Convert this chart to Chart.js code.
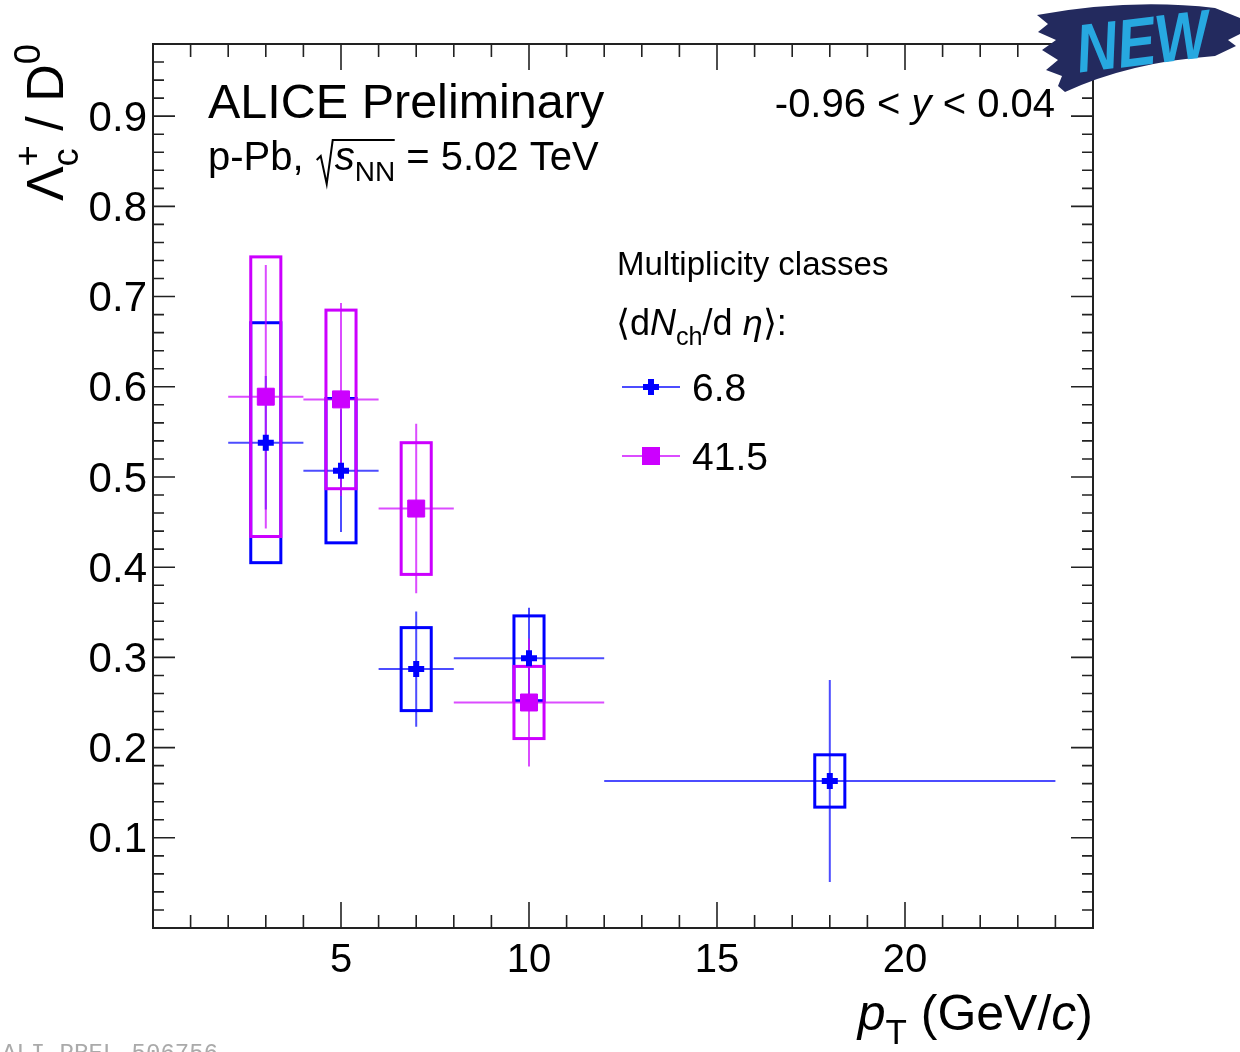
<!DOCTYPE html>
<html>
<head>
<meta charset="utf-8">
<script src="https://cdn.jsdelivr.net/npm/chart.js@4.4.0/dist/chart.umd.min.js"></script>
<style>
  html, body { margin: 0; padding: 0; background: #fff; }
  #wrap { width: 1240px; height: 1052px; }
</style>
</head>
<body>
<div id="wrap"><canvas id="chart-1" width="1240" height="1052"></canvas></div>
<script>
// pT bins (GeV/c)
const ptLow = [2, 4, 6, 8, 12];
const ptHigh = [4, 6, 8, 12, 24];
const ptCenter = [3, 5, 7, 10, 18];

// <dNch/deta> = 6.8
const lowMultRatio = [0.538, 0.507, 0.287, 0.299, 0.163];
const lowMultStat = [0.074, 0.068, 0.064, 0.056, 0.112];
const lowMultSyst = [0.133, 0.080, 0.046, 0.047, 0.029];

// <dNch/deta> = 41.5, no point in the last bin
const highMultRatio = [0.589, 0.586, 0.465, 0.250];
const highMultStat = [0.146, 0.107, 0.094, 0.071];
const highMultSyst = [0.155, 0.099, 0.073, 0.040];

const multLabels = ['6.8', '41.5'];
const xTickLabels = [5, 10, 15, 20];
const yTickLabels = [0.1, 0.2, 0.3, 0.4, 0.5, 0.6, 0.7, 0.8, 0.9];

const FONT = "'Liberation Sans', Arial, sans-serif";
const BLUE = '#0000ff';
const MAGENTA = '#cc00ff';

function toPoints(vals) {
  return vals.map((v, i) => ({ x: ptCenter[i], y: v }));
}

// draw a run of text pieces: {t, it, sub, sup, over}
function richText(ctx, x, y, parts, size, align) {
  const fontOf = (p, s) => (p.it ? 'italic ' : '') + s + 'px ' + FONT;
  let total = 0;
  const widths = parts.map(p => {
    const s = (p.sub || p.sup) ? size * 0.7 : size;
    ctx.font = fontOf(p, s);
    let w = ctx.measureText(p.t).width;
    if (p.over) {
      ctx.font = fontOf({}, size * 0.7);
      w = Math.max(w, ctx.measureText(p.over).width);
    }
    total += w;
    return w;
  });
  let cx = align === 'right' ? x - total : x;
  ctx.textAlign = 'left';
  ctx.textBaseline = 'alphabetic';
  parts.forEach((p, i) => {
    const s = (p.sub || p.sup) ? size * 0.7 : size;
    ctx.font = fontOf(p, s);
    let dy = 0;
    if (p.sub) dy = size * 0.28;
    if (p.sup) dy = -size * 0.45;
    ctx.fillText(p.t, cx, y + dy);
    if (p.over) {
      ctx.font = fontOf({}, size * 0.7);
      ctx.fillText(p.over, cx, y - size * 0.45);
    }
    cx += widths[i];
  });
}

const errorPlugin = {
  id: 'errorBoxes',
  beforeDatasetsDraw(chart) {
    const { ctx, chartArea, scales: { x, y } } = chart;
    ctx.save();
    ctx.beginPath();
    ctx.rect(chartArea.left, chartArea.top, chartArea.right - chartArea.left, chartArea.bottom - chartArea.top);
    ctx.clip();
    const series = [
      { vals: lowMultRatio, stat: lowMultStat, syst: lowMultSyst, color: BLUE },
      { vals: highMultRatio, stat: highMultStat, syst: highMultSyst, color: MAGENTA }
    ];
    series.forEach(s => {
      s.vals.forEach((v, i) => {
        const px = x.getPixelForValue(ptCenter[i]);
        const py = y.getPixelForValue(v);
        // stat error bars
        ctx.globalAlpha = 0.7;
        ctx.strokeStyle = s.color;
        ctx.lineWidth = 2;
        ctx.beginPath();
        ctx.moveTo(x.getPixelForValue(ptLow[i]), py);
        ctx.lineTo(x.getPixelForValue(ptHigh[i]), py);
        ctx.moveTo(px, y.getPixelForValue(v - s.stat[i]));
        ctx.lineTo(px, y.getPixelForValue(v + s.stat[i]));
        ctx.stroke();
        // syst box
        ctx.globalAlpha = 1;
        ctx.lineWidth = 3;
        const x0 = x.getPixelForValue(ptCenter[i] - 0.4);
        const x1 = x.getPixelForValue(ptCenter[i] + 0.4);
        const y0 = y.getPixelForValue(v + s.syst[i]);
        const y1 = y.getPixelForValue(v - s.syst[i]);
        ctx.strokeRect(x0, y0, x1 - x0, y1 - y0);
      });
    });
    ctx.restore();
  },
  afterDraw(chart) {
    const { ctx, chartArea: a, scales: { x, y } } = chart;
    ctx.save();
    // frame
    ctx.strokeStyle = '#222';
    ctx.lineWidth = 2;
    ctx.strokeRect(a.left, a.top, a.right - a.left, a.bottom - a.top);
    // ROOT style ticks on all sides
    ctx.lineWidth = 1.6;
    ctx.beginPath();
    for (let v = x.min; v <= x.max; v += 1) {
      const px = x.getPixelForValue(v);
      const len = v % 5 === 0 ? 26 : 13;
      ctx.moveTo(px, a.bottom); ctx.lineTo(px, a.bottom - len);
      ctx.moveTo(px, a.top); ctx.lineTo(px, a.top + len);
    }
    for (let k = 0; k * 0.02 <= y.max + 1e-9; k++) {
      const py = y.getPixelForValue(k * 0.02);
      const len = k % 5 === 0 ? 22 : 11;
      ctx.moveTo(a.left, py); ctx.lineTo(a.left + len, py);
      ctx.moveTo(a.right, py); ctx.lineTo(a.right - len, py);
    }
    ctx.stroke();

    ctx.fillStyle = '#000';
    // axis titles
    richText(ctx, a.right, 1030, [
      { t: 'p', it: true }, { t: 'T', sub: true }, { t: ' (GeV/' }, { t: 'c', it: true }, { t: ')' }
    ], 50, 'right');
    ctx.save();
    ctx.translate(63, a.top);
    ctx.rotate(-Math.PI / 2);
    richText(ctx, 0, 0, [
      { t: 'Λ' }, { t: 'c', sub: true, over: '+' }, { t: ' / D' }, { t: '0', sup: true }
    ], 52, 'right');
    ctx.restore();

    // labels
    richText(ctx, 208, 118, [{ t: 'ALICE Preliminary' }], 48.5, 'left');
    ctx.font = '40px ' + FONT;
    richText(ctx, 208, 170, [{ t: 'p-Pb, ' }], 40, 'left');
    const sx = 208 + ctx.measureText('p-Pb, ').width;
    // square root sign
    ctx.strokeStyle = '#000';
    ctx.lineWidth = 2;
    ctx.beginPath();
    ctx.moveTo(sx + 2, 160);
    ctx.lineTo(sx + 6, 156);
    ctx.lineTo(sx + 12, 184);
    ctx.lineTo(sx + 18, 140);
    ctx.lineTo(sx + 80, 140);
    ctx.stroke();
    richText(ctx, sx + 20, 170, [
      { t: 's', it: true }, { t: 'NN', sub: true }, { t: ' = 5.02 TeV' }
    ], 40, 'left');
    richText(ctx, 1055, 117, [
      { t: '-0.96 < ' }, { t: 'y', it: true }, { t: ' < 0.04' }
    ], 40, 'right');

    // legend
    richText(ctx, 617, 275, [{ t: 'Multiplicity classes' }], 33, 'left');
    richText(ctx, 616, 335, [
      { t: '⟨d' }, { t: 'N', it: true }, { t: 'ch', sub: true }, { t: '/d ' }, { t: 'η', it: true }, { t: '⟩:' }
    ], 36, 'left');
    const legY = [387, 456];
    const legColors = [BLUE, MAGENTA];
    multLabels.forEach((lab, i) => {
      ctx.strokeStyle = legColors[i];
      ctx.globalAlpha = 0.7;
      ctx.lineWidth = 2;
      ctx.beginPath();
      ctx.moveTo(622, legY[i]); ctx.lineTo(680, legY[i]);
      ctx.stroke();
      ctx.globalAlpha = 1;
      if (i === 0) {
        ctx.lineWidth = 6;
        ctx.beginPath();
        ctx.moveTo(643, legY[i]); ctx.lineTo(659, legY[i]);
        ctx.moveTo(651, legY[i] - 8); ctx.lineTo(651, legY[i] + 8);
        ctx.stroke();
      } else {
        ctx.fillStyle = legColors[i];
        ctx.fillRect(642, legY[i] - 9, 18, 18);
      }
      ctx.fillStyle = '#000';
      richText(ctx, 692, legY[i] + 14, [{ t: lab }], 39, 'left');
    });

    // preliminary figure id, cut by the page edge
    ctx.fillStyle = '#aaa';
    ctx.font = "24px 'Liberation Mono', monospace";
    ctx.textBaseline = 'top';
    ctx.fillText('ALI-PREL-506756', 2, 1042);

    // NEW badge, brush stroke
    ctx.fillStyle = '#232a5e';
    ctx.beginPath();
    ctx.moveTo(1037, 15);
    ctx.quadraticCurveTo(1130, -2, 1215, 8);
    ctx.lineTo(1240, 18);
    ctx.lineTo(1240, 34);
    ctx.lineTo(1228, 40);
    ctx.lineTo(1236, 46);
    ctx.lineTo(1215, 56);
    ctx.quadraticCurveTo(1130, 62, 1065, 92);
    ctx.lineTo(1058, 86);
    ctx.lineTo(1062, 76);
    ctx.lineTo(1046, 70);
    ctx.lineTo(1058, 60);
    ctx.lineTo(1042, 50);
    ctx.lineTo(1056, 40);
    ctx.lineTo(1038, 32);
    ctx.lineTo(1048, 24);
    ctx.closePath();
    ctx.fill();
    ctx.save();
    ctx.translate(1143, 46);
    ctx.rotate(-0.12);
    ctx.scale(0.84, 1);
    ctx.fillStyle = '#27a8e0';
    ctx.font = "italic bold 68px " + FONT;
    ctx.textAlign = 'center';
    ctx.textBaseline = 'middle';
    ctx.fillText('NEW', 0, 0);
    ctx.restore();

    ctx.restore();
  }
};

const ctx = document.getElementById('chart-1').getContext('2d');
const myChart = new Chart(ctx, {
  type: 'scatter',
  data: {
    datasets: [{
      label: multLabels[1],
      data: toPoints(highMultRatio),
      pointStyle: 'rect',
      pointRadius: 12,
      backgroundColor: MAGENTA,
      borderColor: MAGENTA,
      borderWidth: 1
    }, {
      label: multLabels[0],
      data: toPoints(lowMultRatio),
      pointStyle: 'cross',
      pointRadius: 8,
      borderColor: BLUE,
      borderWidth: 6
    }]
  },
  options: {
    responsive: false,
    animation: false,
    layout: { padding: { top: 44, right: 147, left: 0, bottom: 0 } },
    plugins: { legend: { display: false }, tooltip: { enabled: false } },
    scales: {
      x: {
        type: 'linear',
        min: 0,
        max: 25,
        afterBuildTicks: s => { s.ticks = xTickLabels.map(v => ({ value: v })); },
        afterFit: s => { s.height = 124; },
        grid: { display: false, drawTicks: false },
        border: { display: false },
        ticks: { color: '#000', font: { family: FONT, size: 40 }, padding: 9, maxRotation: 0 }
      },
      y: {
        min: 0,
        max: 0.98,
        afterBuildTicks: s => { s.ticks = yTickLabels.map(v => ({ value: v })); },
        afterFit: s => { s.width = 153; },
        grid: { display: false, drawTicks: false },
        border: { display: false },
        ticks: { color: '#000', font: { family: FONT, size: 42 }, padding: 6, labelOffset: 3, callback: v => v.toFixed(1) }
      }
    }
  },
  plugins: [errorPlugin]
});
</script>
</body>
</html>
